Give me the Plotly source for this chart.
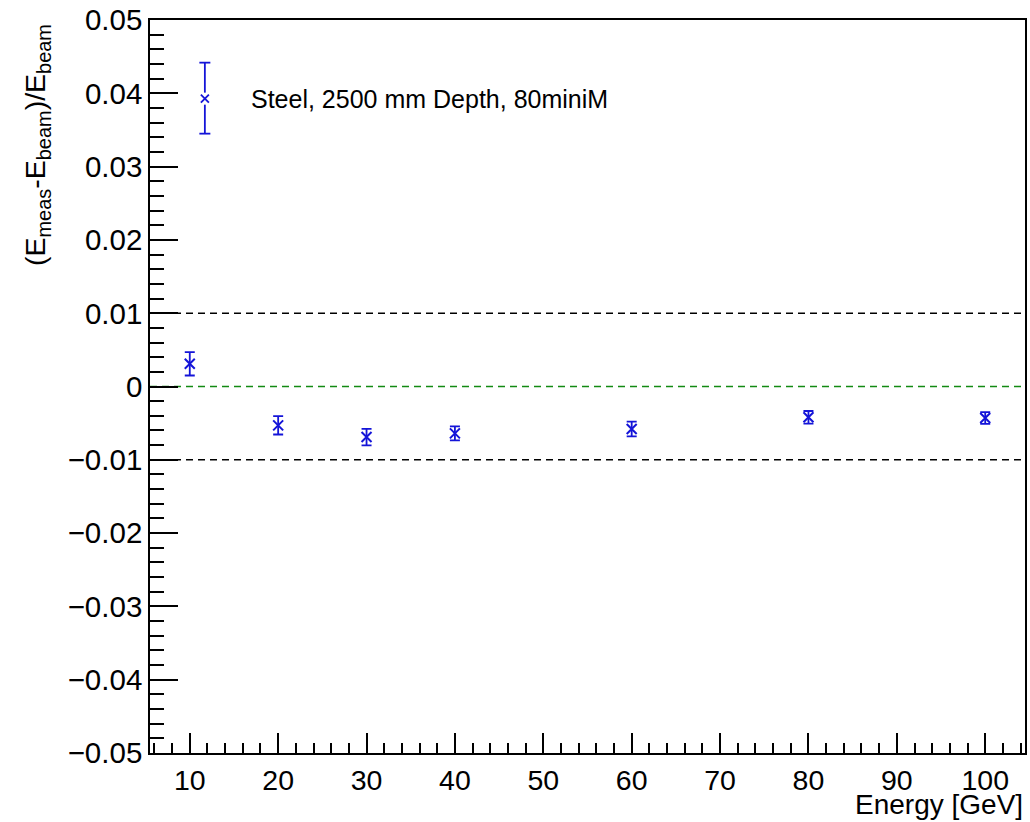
import plotly.graph_objects as go

# ---- data ----
energy = [10, 20, 30, 40, 60, 80, 100]
residual = [0.0031, -0.0053, -0.0069, -0.0064, -0.0058, -0.0042, -0.0043]
residual_err = [0.0016, 0.00125, 0.00113, 0.00095, 0.0010, 0.00086, 0.0008]

band_lines = [0.01, -0.01]
zero_line = [0.0]

y_ticks = [0.05, 0.04, 0.03, 0.02, 0.01, 0.0, -0.01, -0.02, -0.03, -0.04, -0.05]
y_ticktext = ["0.05", "0.04", "0.03", "0.02", "0.01", "0",
              "\u22120.01", "\u22120.02", "\u22120.03", "\u22120.04", "\u22120.05"]
x_ticks = [10, 20, 30, 40, 50, 60, 70, 80, 90, 100]
x_ticktext = [str(v) for v in x_ticks]

legend_label = "Steel, 2500 mm Depth, 80miniM"

BLUE = "#1414d8"
GREEN = "#138a13"
FONT = "Liberation Sans, Arial, sans-serif"

fig = go.Figure()
fig.add_trace(go.Scatter(
    x=energy, y=residual, mode="markers",
    marker=dict(symbol="x-thin", size=10, line=dict(color=BLUE, width=2), color=BLUE),
    error_y=dict(type="data", array=residual_err, visible=True, color=BLUE,
                 thickness=1.8, width=5),
    showlegend=False,
))

shapes = []
for v in band_lines:
    shapes.append(dict(type="line", xref="paper", x0=0, x1=1, yref="y", y0=v, y1=v,
                       line=dict(color="black", width=1.6, dash="7px,5px"), layer="below"))
for v in zero_line:
    shapes.append(dict(type="line", xref="paper", x0=0, x1=1, yref="y", y0=v, y1=v,
                       line=dict(color=GREEN, width=1.6, dash="7px,5px"), layer="below"))

# legend key (marker with error bar), positioned in pixels around an anchor
ax_, ay_ = 0.0627, 0.8927
def pix_line(x0, y0, x1, y1):
    return dict(type="line", xref="paper", xsizemode="pixel", xanchor=ax_,
                yref="paper", ysizemode="pixel", yanchor=ay_,
                x0=x0, x1=x1, y0=y0, y1=y1, line=dict(color=BLUE, width=1.8))
shapes += [
    pix_line(0, 6, 0, 36), pix_line(0, -6, 0, -35),
    pix_line(-5.5, 36, 5.5, 36), pix_line(-5.5, -35, 5.5, -35),
    pix_line(-4, -4, 4, 4), pix_line(-4, 4, 4, -4),
]

annotations = [
    dict(text=legend_label, xref="paper", yref="paper", x=ax_, y=ay_,
         xanchor="left", yanchor="middle", xshift=44, showarrow=False,
         font=dict(family=FONT, size=25, color="black")),
    dict(text="(E<sub>meas</sub>-E<sub>beam</sub>)/E<sub>beam</sub>",
         xref="paper", yref="paper", x=0, y=1, xanchor="center", yanchor="top",
         xshift=-113, yshift=-2, textangle=-90, showarrow=False,
         font=dict(family=FONT, size=28.5, color="black")),
    dict(text="Energy [GeV]", xref="paper", yref="paper", x=1, y=0,
         xanchor="right", yanchor="bottom", yshift=-69, showarrow=False,
         font=dict(family=FONT, size=28, color="black")),
]

fig.update_layout(
    width=1030, height=822,
    margin=dict(l=150, r=3, t=17, b=69, pad=0),
    paper_bgcolor="white", plot_bgcolor="white",
    font=dict(family=FONT, color="black"),
    shapes=shapes, annotations=annotations,
    showlegend=False,
)
fig.update_xaxes(
    range=[5.5, 104.5], showgrid=False, zeroline=False,
    showline=True, linecolor="black", linewidth=1.6, mirror=True,
    ticks="inside", ticklen=20, tickwidth=1.6, tickcolor="black",
    tickvals=x_ticks, ticktext=x_ticktext, ticklabelstandoff=1,
    tickfont=dict(family=FONT, size=28.5, color="black"),
    minor=dict(ticks="inside", ticklen=10, tickwidth=1.6, tickcolor="black", dtick=2, tick0=0),
)
fig.update_yaxes(
    range=[-0.05, 0.05], showgrid=False, zeroline=False,
    showline=True, linecolor="black", linewidth=1.6, mirror=True,
    ticks="inside", ticklen=28, tickwidth=1.6, tickcolor="black",
    tickvals=y_ticks, ticktext=y_ticktext,
    tickfont=dict(family=FONT, size=29.5, color="black"),
    minor=dict(ticks="inside", ticklen=14, tickwidth=1.6, tickcolor="black", dtick=0.002, tick0=0),
)

fig.write_html("out.html")
